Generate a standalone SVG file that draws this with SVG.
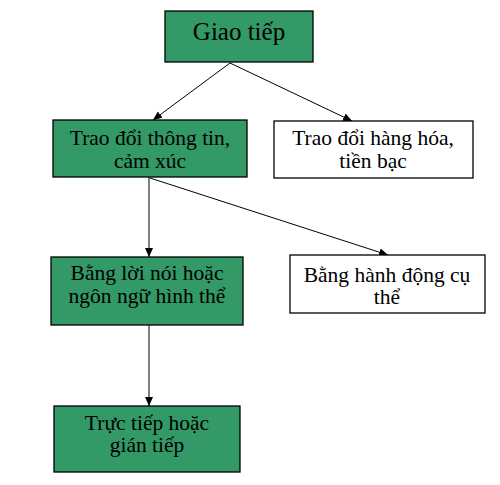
<svg xmlns="http://www.w3.org/2000/svg" width="500" height="485" viewBox="0 0 500 485">
<style>
.g{fill:#339966;stroke:#000;stroke-width:1.3}
.w{fill:#fff;stroke:#000;stroke-width:1.3}
.t{font-family:'Liberation Serif','Times New Roman',serif;font-size:21.5px;fill:#000;text-anchor:middle}
.c line{stroke:#000;stroke-width:1}
</style>
<defs>
<marker id="a" markerWidth="10" markerHeight="10" refX="9" refY="5" orient="auto" markerUnits="userSpaceOnUse">
<path d="M0,1 L9,5 L0,9 Z" fill="#000"/>
</marker>
</defs>
<rect width="500" height="485" fill="#fff"/>
<g class="c">
<line x1="230" y1="63" x2="153" y2="120" marker-end="url(#a)"/>
<line x1="230" y1="63" x2="352" y2="121" marker-end="url(#a)"/>
<line x1="149" y1="177" x2="149" y2="257" marker-end="url(#a)"/>
<line x1="150" y1="178" x2="388" y2="255" marker-end="url(#a)"/>
<line x1="149" y1="325" x2="149" y2="406" marker-end="url(#a)"/>
</g>
<g class="t">
<g id="n1"><rect class="g" x="165" y="11" width="148" height="51"/><text x="239" y="40" font-size="25">Giao tiếp</text></g>
<g id="n2"><rect class="g" x="53" y="120" width="194" height="57"/><text x="150" y="145">Trao đổi thông tin,</text><text x="150" y="168">cảm xúc</text></g>
<g id="n3"><rect class="w" x="274" y="121" width="199" height="57"/><text x="373" y="145">Trao đổi hàng hóa,</text><text x="373" y="168">tiền bạc</text></g>
<g id="n4"><rect class="g" x="51" y="257" width="192" height="68"/><text x="147" y="280">Bằng lời nói hoặc</text><text x="147" y="303">ngôn ngữ hình thể</text></g>
<g id="n5"><rect class="w" x="290" y="255" width="195" height="58"/><text x="387" y="282">Bằng hành động cụ</text><text x="387" y="304">thể</text></g>
<g id="n6"><rect class="g" x="54" y="406" width="186" height="66"/><text x="147" y="430">Trực tiếp hoặc</text><text x="147" y="452">gián tiếp</text></g>
</g>
</svg>
